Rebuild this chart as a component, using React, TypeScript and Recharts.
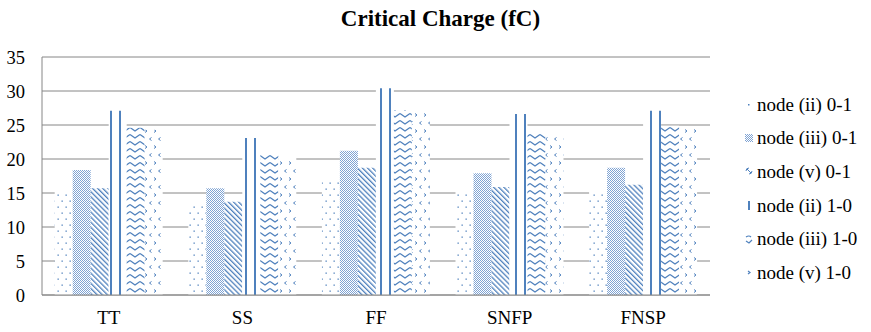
import React from 'react';
import { BarChart, Bar, XAxis, YAxis, CartesianGrid } from 'recharts';

const categories = ['TT', 'SS', 'FF', 'SNFP', 'FNSP'];
const node2_01 = [15.4, 13.5, 17.0, 15.3, 15.4];
const node3_01 = [18.4, 15.7, 21.2, 17.9, 18.7];
const node5_01 = [15.7, 13.7, 18.7, 15.9, 16.2];
const node2_10 = [27.1, 23.1, 30.4, 26.6, 27.1];
const node3_10 = [24.6, 20.9, 27.2, 23.7, 24.9];
const node5_10 = [24.3, 20.3, 27.0, 23.3, 24.4];
const yTicks = [0, 5, 10, 15, 20, 25, 30, 35];

const seriesNames = [
  'node (ii) 0-1',
  'node (iii) 0-1',
  'node (v) 0-1',
  'node (ii) 1-0',
  'node (iii) 1-0',
  'node (v) 1-0',
];
const seriesValues = [node2_01, node3_01, node5_01, node2_10, node3_10, node5_10];
const patternIds = ['pDots', 'pCheck', 'pDiag', 'pVert', 'pChev', 'pArrow'];

const data = categories.map((c, i) => {
  const row: Record<string, string | number> = { name: c };
  seriesValues.forEach((vals, s) => {
    row['s' + s] = vals[i];
  });
  return row;
});

const BLUE = '#4F81BD';
const LIGHT = '#7FA3D3';
const FONT = '"Liberation Serif", "Times New Roman", serif';

const Patterns = () => (
  <defs>
    <pattern id="pDots" patternUnits="userSpaceOnUse" width="8" height="12">
      <rect width="8" height="12" fill="#fff" />
      <rect x="1.5" y="2.5" width="1.3" height="1.3" fill={BLUE} />
      <rect x="5.5" y="8.5" width="1.3" height="1.3" fill={BLUE} />
    </pattern>
    <pattern id="pCheck" patternUnits="userSpaceOnUse" width="2" height="2">
      <rect width="2" height="2" fill="#fff" />
      <rect x="0" y="0" width="1" height="1" fill={LIGHT} />
      <rect x="1" y="1" width="1" height="1" fill={LIGHT} />
    </pattern>
    <pattern id="pDiag" patternUnits="userSpaceOnUse" width="3.6" height="10" patternTransform="rotate(-45)">
      <rect width="3.6" height="10" fill="#fff" />
      <rect x="0" y="0" width="1.3" height="10" fill={BLUE} />
    </pattern>
    <pattern id="pVert" patternUnits="userSpaceOnUse" width="9" height="10">
      <rect width="9" height="10" fill="#fff" />
      <rect x="2" y="0" width="2" height="10" fill={BLUE} />
    </pattern>
    <pattern id="pChev" patternUnits="userSpaceOnUse" width="10" height="7">
      <rect width="10" height="7" fill="#fff" />
      <path d="M0,1.5 L5,5 L10,1.5" stroke={BLUE} strokeWidth="1.3" fill="none" />
    </pattern>
    <pattern id="pArrow" patternUnits="userSpaceOnUse" width="9" height="16">
      <rect width="9" height="16" fill="#fff" />
      <path d="M1,1.5 L3,3 L1,4.5" stroke={BLUE} strokeWidth="1" fill="none" />
      <path d="M7.5,9.5 L5.5,11 L7.5,12.5" stroke={BLUE} strokeWidth="1" fill="none" />
    </pattern>
  </defs>
);

const LegendIcon = ({ idx }: { idx: number }) => {
  const marks = [
    <rect key="a" x="3" y="4" width="1.5" height="1.5" fill={BLUE} />,
    <rect key="b" x="0" y="0" width="8" height="8" fill={`url(#${patternIds[1]})`} />,
    <path key="c" d="M1,4 A3,3 0 0 1 4,1 M4,7 A3,3 0 0 0 7,4 M2,2 L6,6" stroke={BLUE} strokeWidth="1" fill="none" />,
    <rect key="d" x="3" y="0" width="2" height="9" fill={BLUE} />,
    <path key="e" d="M1,2 Q4,0 6,2 M1,6 L4,8 L7,5" stroke={BLUE} strokeWidth="1.2" fill="none" />,
    <path key="f" d="M3,3 L5,4.5 L3,6" stroke={BLUE} strokeWidth="1.2" fill="none" />,
  ];
  return (
    <svg width="9" height="9" style={{ marginRight: 3, flex: 'none' }}>
      {marks[idx]}
    </svg>
  );
};

export default function App() {
  return (
    <div style={{ position: 'absolute', left: 0, top: 0, width: 871, height: 332, background: '#fff' }}>
      <BarChart
        width={871}
        height={332}
        data={data}
        margin={{ top: 57, right: 161, bottom: 7, left: 0 }}
        barCategoryGap="9.5%"
        barGap={0}
      >
        <Patterns />
        <CartesianGrid vertical={false} stroke="#868686" strokeWidth={1} />
        <XAxis
          dataKey="name"
          stroke="#868686"
          tickLine={false}
          tick={{ fill: '#000', fontFamily: FONT, fontSize: 19 }}
          tickMargin={10}
        />
        <YAxis
          width={42}
          domain={[0, 35]}
          ticks={yTicks}
          interval={0}
          stroke="#868686"
          tickLine={false}
          tick={{ fill: '#000', fontFamily: FONT, fontSize: 18.5 }}
          tickMargin={11}
        />
        {seriesNames.map((n, i) => (
          <Bar
            key={n}
            dataKey={'s' + i}
            name={n}
            fill={`url(#${patternIds[i]})`}
            isAnimationActive={false}
          />
        ))}
      </BarChart>
      <div
        style={{
          position: 'absolute',
          left: 5,
          top: 6,
          width: 871,
          textAlign: 'center',
          fontFamily: FONT,
          fontWeight: 'bold',
          fontSize: 23,
          color: '#000',
        }}
      >
        Critical Charge (fC)
      </div>
      <div style={{ position: 'absolute', left: 745, top: 88, fontFamily: FONT, fontSize: 19, color: '#000' }}>
        {seriesNames.map((n, i) => (
          <div key={n} style={{ height: 33.6, display: 'flex', alignItems: 'center' }}>
            <LegendIcon idx={i} />
            <span style={{ whiteSpace: 'nowrap' }}>{n}</span>
          </div>
        ))}
      </div>
    </div>
  );
}
